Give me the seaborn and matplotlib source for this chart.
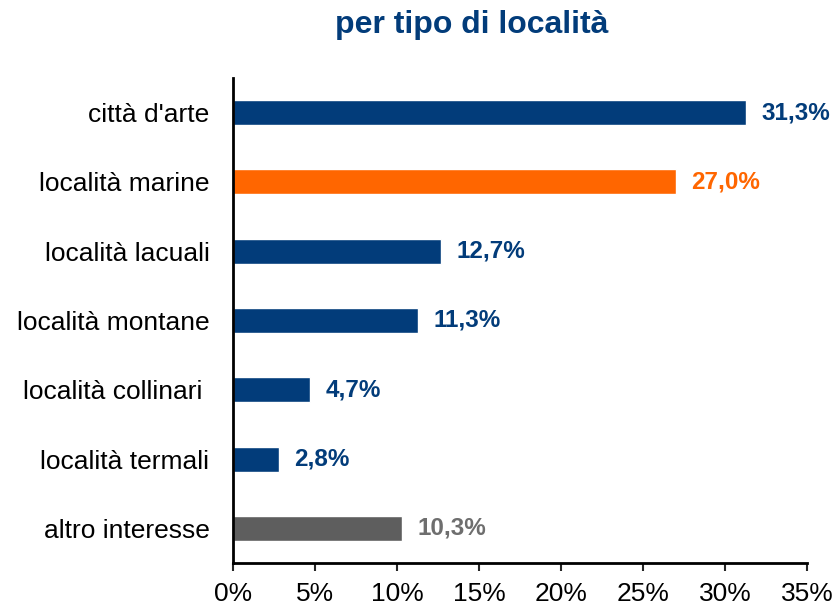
import pandas as pd
import seaborn as sns
import matplotlib.pyplot as plt
from matplotlib.ticker import FuncFormatter

categorie = ["città d'arte", "località marine", "località lacuali", "località montane",
             "località collinari ", "località termali", "altro interesse"]
valori = [31.3, 27.0, 12.7, 11.3, 4.7, 2.8, 10.3]
colori = ["#023C7A", "#FF6600", "#023C7A", "#023C7A", "#023C7A", "#023C7A", "#5E5E5E"]
colori_testo = ["#023C7A", "#FF6600", "#023C7A", "#023C7A", "#023C7A", "#023C7A", "#6E6E6E"]
titolo = "per tipo di località"

df = pd.DataFrame({"categoria": categorie, "valore": valori})

sns.set_style("white")
plt.rcParams['font.family'] = ['Liberation Sans', 'DejaVu Sans']

fig = plt.figure(figsize=(8.36, 6.05), dpi=100)
ax = fig.add_axes([0.2787, 0.0694, 0.6866, 0.8017])

sns.barplot(data=df, x="valore", y="categoria", hue="categoria", palette=colori,
            legend=False, width=0.36, saturation=1, ax=ax)

# etichette dei valori
for i, v in enumerate(valori):
    ax.text(v + 0.95, i, f"{v:.1f}%".replace(".", ","), va="center", ha="left",
            fontsize=17.5, fontweight="bold", color=colori_testo[i])

ax.set_xlim(0, 35)
ax.set_ylim(6.5, -0.5)
ax.set_xticks(range(0, 36, 5))
ax.xaxis.set_major_formatter(FuncFormatter(lambda x, p: f"{x:.0f}%"))
ax.set_xlabel("")
ax.set_ylabel("")
ax.tick_params(axis="x", labelsize=19, length=6, width=1.5, direction="out",
               bottom=True, pad=8, labelcolor="black")
ax.tick_params(axis="y", labelsize=19, length=0, pad=17, labelcolor="black")

sns.despine(ax=ax)
for s in ["left", "bottom"]:
    ax.spines[s].set_color("black")
    ax.spines[s].set_linewidth(2)

fig.text(0.564, 0.958, titolo, ha="center", va="center", fontsize=23,
         fontweight="bold", color="#023C7A")

plt.savefig("out.png", dpi=100)
